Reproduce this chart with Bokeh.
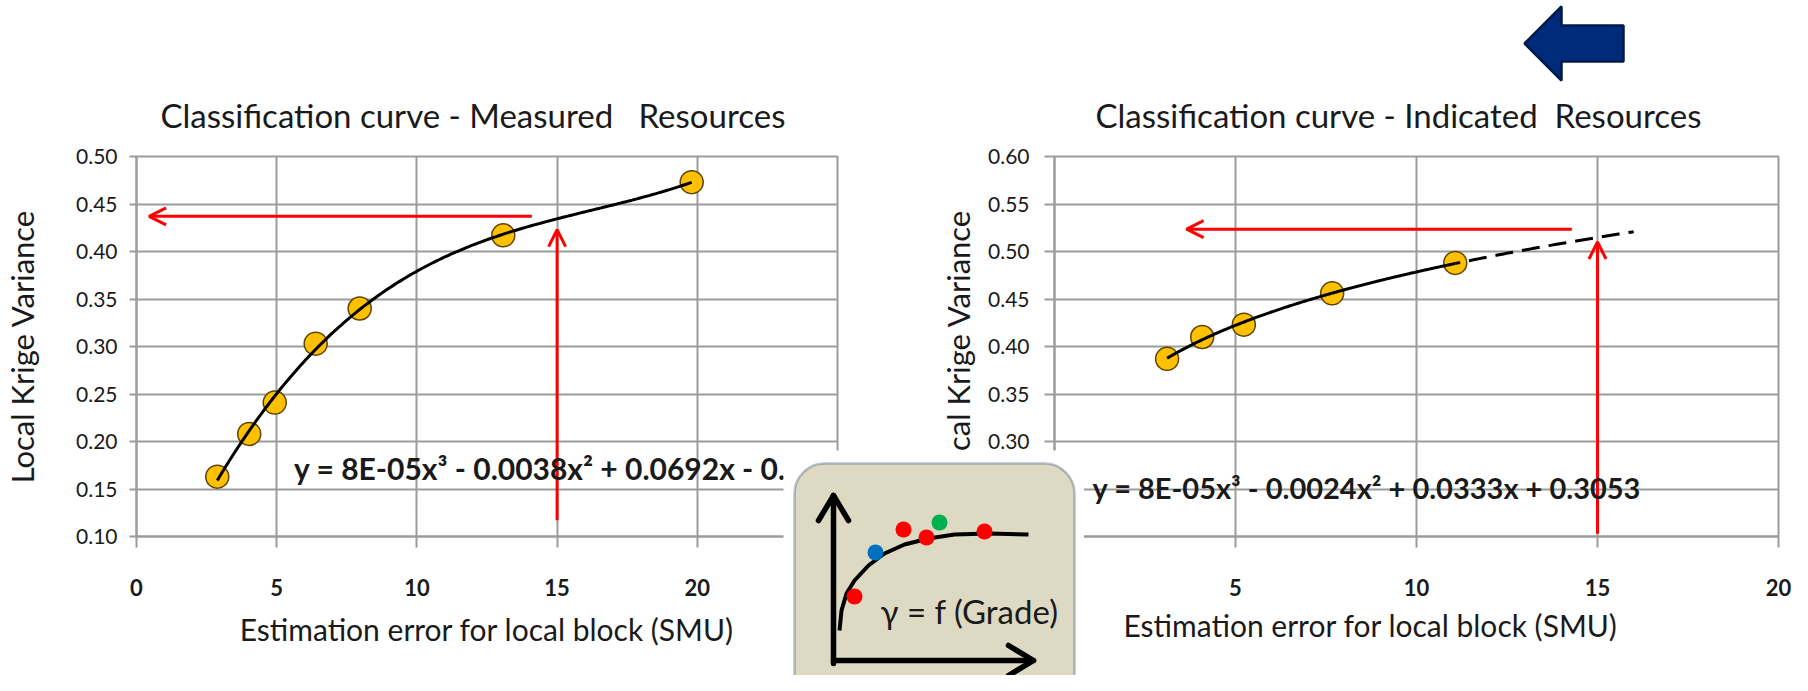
import numpy as np
from bokeh.plotting import figure
from bokeh.models import Range1d, FixedTicker, PrintfTickFormatter, Label, Arrow, OpenHead, BoxAnnotation, Title
from bokeh.layouts import row, column
from bokeh.embed import file_html
from bokeh.resources import INLINE

FONT = "Lato"
GRID = "#9c9c9c"
TXT = "#1a1a1a"

# ---------------- data ----------------
meas_title = "Classification curve - Measured \u00a0 Resources"
ind_title = "Classification curve - Indicated \u00a0Resources"
x_title = "Estimation error for local block (SMU)"
y_title = "Local Krige Variance"

meas_x = [2.88, 4.02, 4.93, 6.39, 7.96, 13.08, 19.8]
meas_y = [0.163, 0.208, 0.241, 0.303, 0.340, 0.417, 0.473]
meas_xticks = [0, 5, 10, 15, 20, 25]
meas_yticks = [0.10, 0.15, 0.20, 0.25, 0.30, 0.35, 0.40, 0.45, 0.50]
meas_eq = "y = 8E-05x³ - 0.0038x² + 0.0692x - 0.0"
meas_read_x = 15.0          # vertical red arrow position
meas_read_y = 0.437         # horizontal red arrow level
meas_arrow_v = [0.117, 0.423]
meas_arrow_h = [14.1, 0.45]

ind_x = [3.11, 4.08, 5.23, 7.67, 11.07]
ind_y = [0.387, 0.410, 0.423, 0.456, 0.488]
ind_xticks = [0, 5, 10, 15, 20]
ind_yticks = [0.20, 0.25, 0.30, 0.35, 0.40, 0.45, 0.50, 0.55, 0.60]
ind_eq = "y = 8E-05x³ - 0.0024x² + 0.0333x + 0.3053"
ind_forecast_to = 16.0
ind_read_x = 15.0
ind_read_y = 0.5235
ind_arrow_v = [0.203, 0.51]
ind_arrow_h = [14.29, 3.65]

# inset icon (pixel units of the icon, y downwards)
icon_curve_x = [56, 58, 63, 71, 85, 101, 121, 145, 171, 205, 245]
icon_curve_y = [180, 160, 143, 130, 115, 103, 94, 88, 84, 83, 84]
icon_dot_x = [71, 92, 120, 143, 156, 201]
icon_dot_y = [146, 102, 79, 87, 72, 81]
icon_dot_c = ["#FF0000", "#0070C0", "#FF0000", "#FF0000", "#00B050", "#FF0000"]
icon_text = "γ = f (Grade)"

# blue arrow outline (pixel units, y downwards)
blue_x = [9, 46, 46, 108, 108, 46, 46]
blue_y = [44, 7, 26, 26, 62, 62, 81]


def style_chart(p, xt, yt, ytick_out, ystand):
    p.background_fill_color = "white"
    p.border_fill_color = "white"
    p.outline_line_color = GRID
    p.outline_line_width = 2
    p.xaxis.ticker = FixedTicker(ticks=xt)
    p.yaxis.ticker = FixedTicker(ticks=yt)
    p.yaxis.formatter = PrintfTickFormatter(format="%.2f")
    for ax in (p.xaxis[0], p.yaxis[0]):
        ax.axis_line_color = GRID
        ax.axis_line_width = 2
        ax.major_tick_line_color = GRID
        ax.major_tick_line_width = 2
        ax.minor_tick_line_color = None
        ax.major_tick_in = 0
        ax.major_label_text_font = FONT
        ax.major_label_text_color = TXT
        ax.axis_label_text_font = FONT
        ax.axis_label_text_font_style = "normal"
        ax.axis_label_text_color = TXT
    p.xaxis.axis_label_text_font_size = "30px"
    p.yaxis.axis_label_text_font_size = "31px"
    p.xaxis.major_tick_out = 11
    p.xaxis.major_label_text_font_size = "22px"
    p.xaxis.major_label_text_font_style = "bold"
    p.xaxis.major_label_standoff = 31
    p.yaxis.major_tick_out = ytick_out
    p.yaxis.major_label_text_font_size = "21px"
    p.yaxis.major_label_standoff = ystand
    p.grid.grid_line_color = GRID
    p.grid.grid_line_width = 2
    p.title.text_font = FONT
    p.title.text_font_size = "33px"
    p.title.text_font_style = "normal"
    p.title.text_color = TXT
    p.title.align = "left"
    p.title.standoff = 44


def red_arrow(p, xs, ys):
    p.add_layout(Arrow(end=OpenHead(size=17, line_color="#FF0000", line_width=3),
                       x_start=xs[0], y_start=ys[0], x_end=xs[1], y_end=ys[1],
                       line_color="#FF0000", line_width=3))


# ---------------- left chart ----------------
pl = figure(width=897, height=675, x_range=Range1d(0, 25), y_range=Range1d(0.10, 0.50),
            output_backend="svg", toolbar_location=None, title=meas_title,
            min_border_left=121, min_border_right=60, min_border_top=150, min_border_bottom=139)
style_chart(pl, meas_xticks, meas_yticks, 7, 12)
pl.title.offset = 24
pl.xaxis.axis_label = x_title
pl.xaxis.axis_label_standoff = 12
pl.yaxis.axis_label = y_title
pl.yaxis.axis_label_standoff = 32

pl.scatter(meas_x, meas_y, size=23, fill_color="#FFC000", line_color="#5c4500", line_width=1.5)
fit_m = np.polyfit(meas_x, meas_y, 3)
xm = np.linspace(min(meas_x), max(meas_x), 200)
pl.line(xm, np.polyval(fit_m, xm), line_color="black", line_width=3)

red_arrow(pl, meas_arrow_h, [meas_read_y, meas_read_y])
red_arrow(pl, [meas_read_x, meas_read_x], meas_arrow_v)

pl.add_layout(Label(x=5.62, y=0.172, text=meas_eq, text_font=FONT, text_font_size="30px",
                    text_font_style="bold", text_color=TXT, text_align="left", text_baseline="middle"))

# ---------------- right chart ----------------
pr = figure(width=895, height=675, x_range=Range1d(0, 20), y_range=Range1d(0.20, 0.60),
            output_backend="svg", toolbar_location=None, title=ind_title,
            min_border_left=157, min_border_right=14, min_border_top=156, min_border_bottom=131)
style_chart(pr, ind_xticks, ind_yticks, 10, 15)
pr.title.offset = 41
pr.add_layout(Title(text=y_title, align="center", offset=-22, standoff=18, text_font=FONT,
                    text_font_size="31px", text_font_style="normal", text_color=TXT), "left")
pr.add_layout(Title(text=x_title, align="left", offset=69, standoff=12, text_font=FONT,
                    text_font_size="30px", text_font_style="normal", text_color=TXT), "below")

pr.scatter(ind_x, ind_y, size=23, fill_color="#FFC000", line_color="#5c4500", line_width=1.5)
# power-law trendline fitted to the indicated points, with dashed forecast
fit_i = np.polyfit(np.log(ind_x), np.log(ind_y), 1)
xi = np.linspace(min(ind_x), max(ind_x), 200)
pr.line(xi, np.exp(np.polyval(fit_i, np.log(xi))), line_color="black", line_width=3)
xf = np.linspace(max(ind_x), ind_forecast_to, 60)
pr.line(xf, np.exp(np.polyval(fit_i, np.log(xf))), line_color="black", line_width=3,
        line_dash="18 9", line_dash_offset=-14)

red_arrow(pr, ind_arrow_h, [ind_read_y, ind_read_y])
red_arrow(pr, [ind_read_x, ind_read_x], ind_arrow_v)

pr.add_layout(Label(x=1.05, y=0.2517, text=ind_eq, text_font=FONT, text_font_size="29px",
                    text_font_style="bold", text_color=TXT, text_align="left", text_baseline="middle"))

# ---------------- inset icon (overlay) ----------------
ins = figure(width=301, height=225, x_range=Range1d(0, 301), y_range=Range1d(225, 0),
             output_backend="svg", toolbar_location=None, x_axis_type=None, y_axis_type=None,
             min_border=0, margin=(-225, 0, 0, 783))
ins.grid.visible = False
ins.outline_line_color = None
ins.background_fill_color = "white"
ins.border_fill_color = "white"
box = BoxAnnotation(left=11, right=291, top=13, bottom=262, fill_color="#DDD9C3", fill_alpha=1,
                    line_color="#1F3864", line_width=2.5, border_radius=30, level="underlay")
ins.add_layout(box)
ins.multi_line([[50, 50], [35, 50, 65], [50, 250], [225, 250, 225]],
               [[213, 45], [70, 45, 70], [210, 210], [195, 210, 225]],
               line_color="black", line_width=5.5, line_cap="round", line_join="round")
ins.line(icon_curve_x, icon_curve_y, line_color="black", line_width=4)
ins.scatter(icon_dot_x, icon_dot_y, size=16, fill_color=icon_dot_c, line_color=None)
ins.add_layout(Label(x=97, y=160, text=icon_text, text_font=FONT, text_font_size="33px",
                     text_color=TXT, text_align="left", text_baseline="middle"))

# ---------------- blue arrow (overlay) ----------------
arr = figure(width=115, height=85, x_range=Range1d(0, 115), y_range=Range1d(85, 0),
             output_backend="svg", toolbar_location=None, x_axis_type=None, y_axis_type=None,
             min_border=0, margin=(-676, 0, 591, 1515))
arr.grid.visible = False
arr.outline_line_color = None
arr.background_fill_color = "white"
arr.border_fill_color = "white"
arr.patch(blue_x, blue_y, fill_color="#002A7A", line_color="#001A4D", line_width=2.5)

layout = column(row(pl, pr), ins, arr)
open("out.html", "w").write(file_html(layout, INLINE))
